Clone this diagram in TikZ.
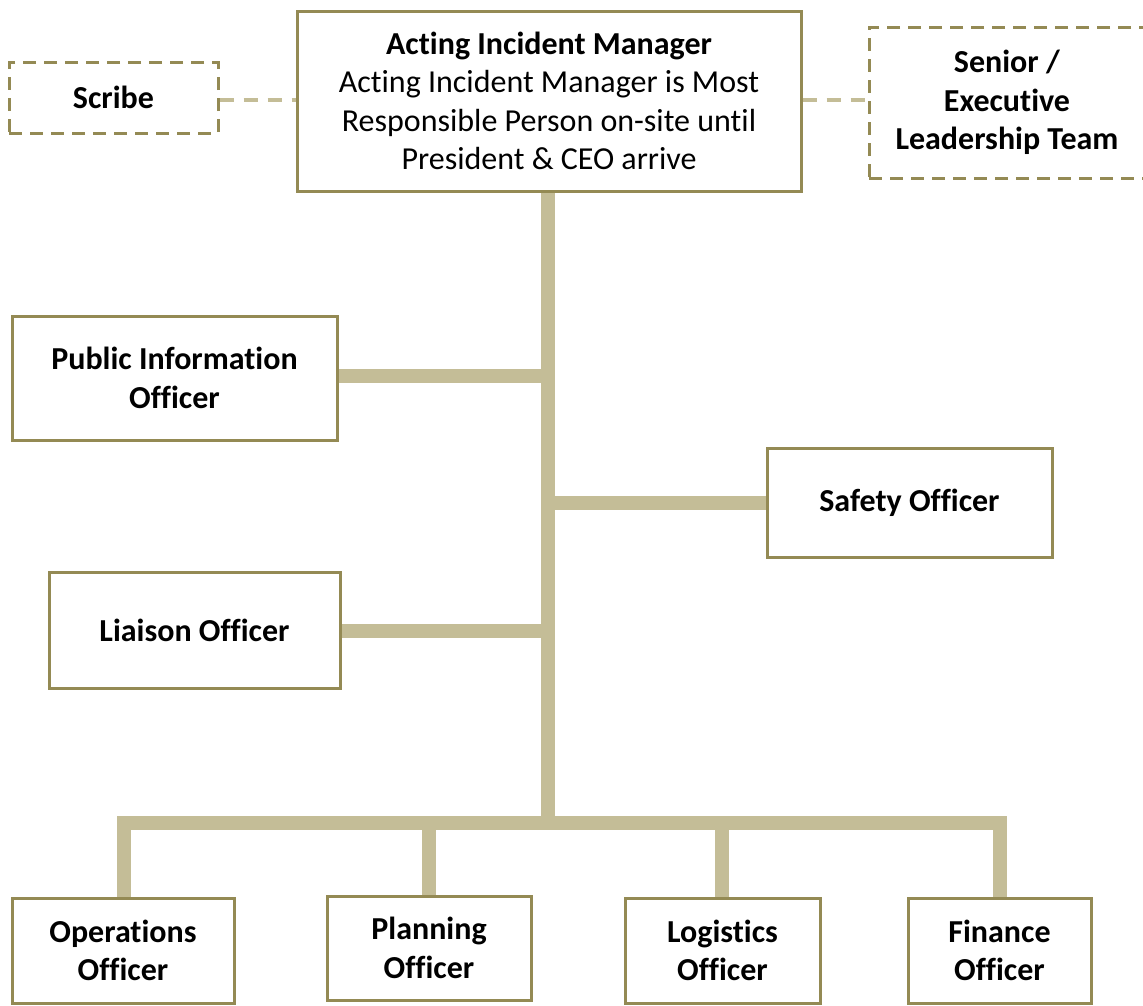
\documentclass[tikz,border=0pt]{standalone}
\usepackage{fontspec}
\setmainfont[Ligatures={NoCommon}]{Carlito}
\definecolor{boxline}{RGB}{148,138,84}
\definecolor{linkline}{RGB}{196,189,151}
\begin{document}
\begin{tikzpicture}[x=1pt,y=-1pt,
  every node/.style={font=\fontsize{32}{38.5}\selectfont, align=center, inner sep=0pt},
  role/.style={draw=boxline, line width=3pt, fill=white},
  dashrole/.style={draw=boxline, line width=3pt, dash pattern=on 13pt off 8pt, fill=white},
  trunk/.style={draw=linkline, line width=14pt, line join=miter},
  dashlink/.style={draw=linkline, line width=3.5pt, dash pattern=on 14pt off 10pt}]
\useasboundingbox (0,0) rectangle (1143,1005);

% reporting lines
\coordinate (bus) at (548,823);
\draw[trunk] (548,190) -- (bus);
\draw[trunk] (124,898) |- (bus) -| (1000,898);
\draw[trunk] (429,823) -- (429,898);
\draw[trunk] (722,823) -- (722,898);
\draw[trunk] (337,376) -- (548,376);
\draw[trunk] (548,503) -- (767,503);
\draw[trunk] (340,631) -- (548,631);

% command box
\node[role, minimum width=504pt, minimum height=180pt] (main) at (549,101)
  {\textbf{Acting Incident Manager}\\Acting Incident Manager is Most\\Responsible Person on-site until\\President \& CEO arrive};

% advisory boxes
\node[dashrole, minimum width=209pt, minimum height=71pt] (scribe) at (113.5,97.5) {\textbf{Scribe}};
\node[dashrole, minimum width=276pt, minimum height=151pt] (senior) at (1007,102.5)
  {\textbf{Senior /}\\\textbf{Executive}\\\textbf{Leadership Team}};
\draw[dashlink] (scribe.east |- 0,100) -- (main.west |- 0,100);
\draw[dashlink] (main.east |- 0,100) -- (senior.west |- 0,100);

% staff officers
\node[role, minimum width=325pt, minimum height=124pt] (pio) at (174.5,378) {\textbf{Public Information}\\\textbf{Officer}};
\node[role, minimum width=285pt, minimum height=109pt] (safety) at (909.5,502.5) {\textbf{Safety Officer}};
\node[role, minimum width=291pt, minimum height=116pt] (liaison) at (194.5,630) {\textbf{Liaison Officer}};

% section officers
\node[role, minimum width=222pt, minimum height=105pt] (ops) at (123,950.5) {\textbf{Operations}\\\textbf{Officer}};
\node[role, minimum width=204pt, minimum height=104pt] (plan) at (429,948) {\textbf{Planning}\\\textbf{Officer}};
\node[role, minimum width=195pt, minimum height=105pt] (log) at (722.5,950.5) {\textbf{Logistics}\\\textbf{Officer}};
\node[role, minimum width=183pt, minimum height=105pt] (fin) at (999.5,950.5) {\textbf{Finance}\\\textbf{Officer}};
\end{tikzpicture}
\end{document}
